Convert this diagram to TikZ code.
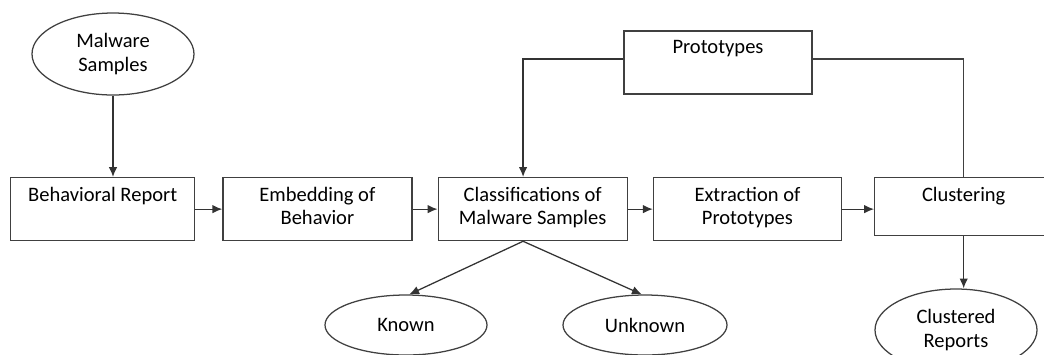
\documentclass[tikz,border=0pt]{standalone}
\usepackage{fontspec}
\setmainfont{Carlito}
\usetikzlibrary{positioning}
\usetikzlibrary{arrows.meta}
\usetikzlibrary{shapes.geometric}

\begin{document}
\begin{tikzpicture}[
	stage/.style = {draw=black!75, line width=0.9pt, minimum height=1.575cm, inner sep=0pt},
	oval/.style = {ellipse, draw=black!75, line width=0.9pt, inner sep=0pt, align=center, font=\fontsize{14.6}{16.4}\selectfont},
	txt/.style = {align=center, inner sep=0pt, font=\fontsize{14.6}{16.4}\selectfont},
	arr/.style = {-{Latex[length=7pt, width=6pt]}, draw=black!80, line width=0.9pt},
	wire/.style = {draw=black!75, line width=0.9pt}
	]
			\useasboundingbox (0,0) rectangle (26.1,-8.85);
			
			\node[oval, minimum width=4.05cm, minimum height=2.05cm] (ms) at (2.825,-1.35) {Malware\\Samples};
			
			\node[stage, minimum width=4.6cm, anchor=north west] (br) at (0.25,-4.425) {};
			\node[stage, minimum width=4.725cm, right = 0.675cm of br] (emb) {};
			\node[stage, minimum width=4.725cm, right = 0.625cm of emb] (cls) {};
			\node[stage, minimum width=4.7cm, right = 0.625cm of cls] (ext) {};
			\node[stage, minimum width=4.45cm, minimum height=1.45cm, right = 0.8cm of ext.north east, anchor=north west] (clu) {};
			\node[stage, minimum width=4.7cm] (pro) at (17.95,-1.5625) {};
			
			\node[txt, below = 0.25cm of br.north] (brT) {Behavioral Report};
			\node[txt, below = 0.25cm of emb.north] (embT) {Embedding of\\Behavior};
			\node[txt, below = 0.25cm of cls.north] (clsT) {Classifications of\\Malware Samples};
			\node[txt, below = 0.25cm of ext.north] (extT) {Extraction of\\Prototypes};
			\node[txt, below = 0.25cm of clu.north] (cluT) {Clustering};
			\node[txt, below = 0.25cm of pro.north] (proT) {Prototypes};
			
			\node[oval, minimum width=4.05cm, minimum height=1.5cm] (kn) at (10.15,-8.125) {Known};
			\node[oval, minimum width=4.1cm, minimum height=1.5cm] (unk) at (16.125,-8.125) {Unknown};
			\node[oval, minimum width=4.05cm, minimum height=2.05cm] (cr) at (23.9,-8.25) {Clustered\\Reports};
			
			\coordinate (split) at ([xshift=-0.24cm]cls.south);
			\coordinate (entry) at ([xshift=-0.24cm]cls.north);
			
			\path (ms.south) edge[arr] (ms.south |- br.north);
			\path (br) edge[arr] (emb);
			\path (emb) edge[arr] (cls);
			\path (cls) edge[arr] (ext);
			\path (ext.east) edge[arr] (ext.east -| clu.west);
			\path (split) edge[arr] (kn.84);
			\path (split) edge[arr] (unk.96);
			\path (clu.south) edge[arr] (clu.south |- cr.north);
			\draw[arr] ([yshift=0.09cm]pro.west) -| (entry);
			\draw[wire] ([yshift=0.09cm]pro.east) -| (clu.north);
			\end{tikzpicture}
\end{document}
